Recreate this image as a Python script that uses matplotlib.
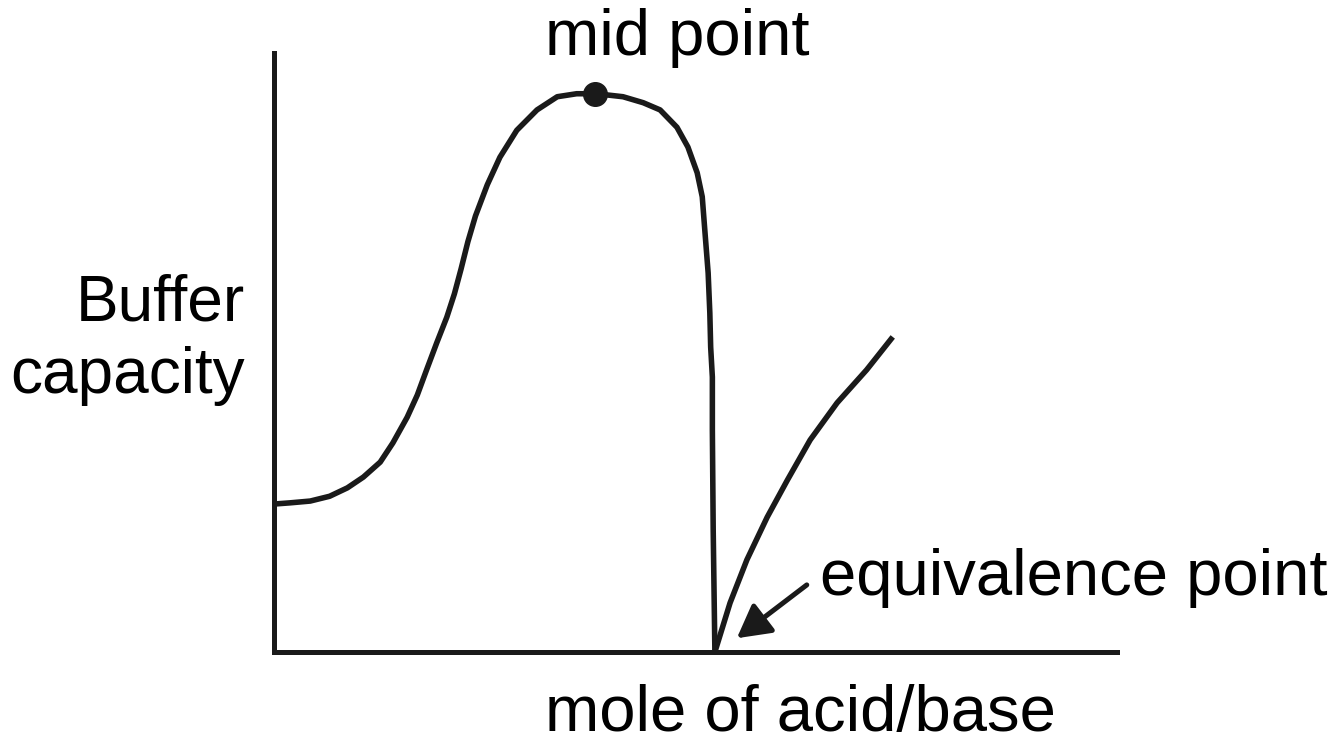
import matplotlib.pyplot as plt

# buffer capacity curve (axis units 0..10)
mole_rise = [0, 0.19, 0.43, 0.66, 0.87, 1.06, 1.26, 1.41, 1.58, 1.70, 1.81, 1.93, 2.05,
             2.14, 2.22, 2.30, 2.39, 2.53, 2.68, 2.88, 3.12, 3.36, 3.59, 3.81, 3.95, 4.14, 4.38,
             4.58, 4.78, 4.91, 5.02, 5.08, 5.11, 5.15, 5.17, 5.18, 5.20, 5.20, 5.21, 5.23]
cap_rise = [2.47, 2.49, 2.52, 2.60, 2.74, 2.92, 3.17, 3.49, 3.92, 4.29, 4.71, 5.16, 5.59,
            5.98, 6.40, 6.85, 7.28, 7.80, 8.26, 8.71, 9.05, 9.27, 9.32, 9.32, 9.30, 9.27, 9.17,
            9.05, 8.76, 8.43, 8.00, 7.60, 7.05, 6.33, 5.66, 5.09, 4.59, 3.71, 2.04, 0]
mole_after = [5.23, 5.41, 5.61, 5.85, 6.09, 6.36, 6.68, 7.03, 7.34]
cap_after = [0, 0.82, 1.54, 2.25, 2.87, 3.54, 4.16, 4.71, 5.26]
mid_point = (3.81, 9.32)
equiv_point = (5.49, 0.23)
arrow_tail = (6.32, 1.12)

plt.rcParams['font.family'] = ['Liberation Sans', 'DejaVu Sans']
ink = "#1a1a1a"

fig = plt.figure(figsize=(13.42, 7.45), dpi=100)
ax = fig.add_axes([274 / 1342, 93 / 745, 843 / 1342, 599 / 745])
ax.set_xlim(0, 10)
ax.set_ylim(0, 10)

ax.plot(mole_rise, cap_rise, color=ink, lw=4, clip_on=False,
        solid_joinstyle="round", solid_capstyle="butt")
ax.plot(mole_after, cap_after, color=ink, lw=4, clip_on=False,
        solid_joinstyle="round", solid_capstyle="butt")
ax.plot(*mid_point, "o", color=ink, ms=17, clip_on=False)

ax.annotate("", xy=equiv_point, xytext=arrow_tail,
            arrowprops=dict(arrowstyle="-|>,head_length=2.0,head_width=1.1",
                            color=ink, lw=3.6, shrinkA=0, shrinkB=0))

for s in ["top", "right"]:
    ax.spines[s].set_visible(False)
for s in ["left", "bottom"]:
    ax.spines[s].set_linewidth(3.6)
    ax.spines[s].set_color(ink)
ax.set_xticks([])
ax.set_yticks([])

fs = 47
fig.text(545 / 1342, 1 - 55 / 745, "mid point", fontsize=fs, ha="left", va="baseline")
fig.text(245 / 1342, 1 - 320 / 745, "Buffer", fontsize=46, ha="right", va="baseline")
fig.text(245 / 1342, 1 - 393 / 745, "capacity", fontsize=46, ha="right", va="baseline")
fig.text(820 / 1342, 1 - 595 / 745, "equivalence point", fontsize=fs, ha="left", va="baseline")
fig.text(545 / 1342, 0.002, "mole of acid/base", fontsize=fs, ha="left", va="bottom")

fig.savefig("out.png", dpi=100)
